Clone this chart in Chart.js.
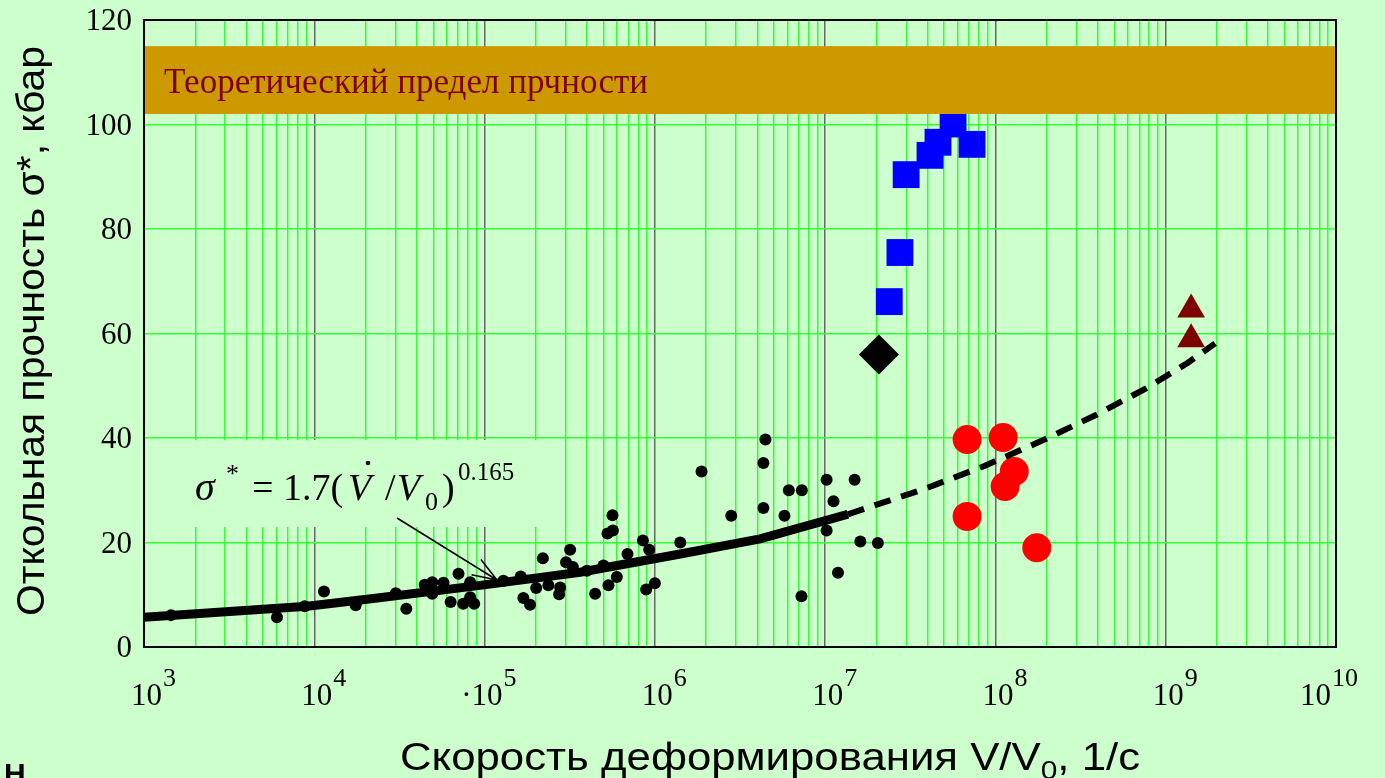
<!DOCTYPE html>
<html>
<head>
<meta charset="utf-8">
<script src="https://cdn.jsdelivr.net/npm/chart.js@4.4.0/dist/chart.umd.min.js"></script>
<style>
  html, body { margin: 0; padding: 0; background: #CCFFCC; }
  #wrap { width: 1385px; height: 778px; }
</style>
</head>
<body>
<div id="wrap"><canvas id="spall" width="1385" height="778"></canvas></div>
<script>
// strain rate (1/s) and spall strength (kbar)
const dotX = [1440, 6040, 8790, 11400, 17500, 30100, 34700, 44500, 49300, 49300,
  57400, 70300, 63200, 74900, 86900, 82300, 82300, 129000, 163000, 169000,
  185000, 201000, 220000, 237000, 278000, 274000, 301000, 318000, 330000, 399000,
  446000, 499000, 534000, 598000, 527000, 567000, 564000, 691000, 851000, 926000,
  889000, 1.0e6, 1.41e6, 1.88e6, 2.81e6, 4.46e6, 4.34e6, 4.34e6, 6.12e6, 7.30e6,
  5.77e6, 7.26e6, 1.02e7, 1.12e7, 1.02e7, 1.49e7, 1.61e7, 2.04e7, 1.19e7];
const dotY = [6.1, 5.7, 7.8, 10.6, 8.0, 10.3, 7.3, 11.9, 12.4, 10.2,
  12.3, 14.0, 8.6, 8.3, 8.3, 9.5, 12.4, 12.7, 13.5, 9.4,
  8.1, 11.3, 17.0, 11.8, 11.4, 10.1, 16.2, 18.6, 15.3, 14.6,
  10.2, 15.6, 11.8, 13.4, 21.7, 22.3, 25.2, 17.8, 20.4, 18.6,
  11.0, 12.2, 20.0, 33.6, 25.1, 39.7, 35.2, 26.6, 30.0, 30.0,
  25.1, 9.7, 32.0, 27.9, 22.3, 32.0, 20.2, 19.9, 14.2];

const squareX = [2.38e7, 2.75e7, 2.99e7, 4.13e7, 4.60e7, 5.64e7, 7.29e7];
const squareY = [66.1, 75.5, 90.4, 94.1, 96.6, 100.1, 96.2];

const diamondX = [2.07e7];
const diamondY = [56.0];

const circleX = [6.82e7, 1.11e8, 1.29e8, 1.14e8, 6.82e7, 1.75e8];
const circleY = [39.7, 40.1, 33.6, 30.7, 25.0, 19.0];

const triangleX = [1.41e9, 1.41e9];
const triangleY = [64.6, 58.9];

// fit sigma* = 1.7 (V'/V0)^0.165, solid part and dashed extension
const fitX = [1e3, 9100, 22200, 94200, 364000, 1.41e6, 4.15e6, 1.36e7];
const fitY = [5.7, 7.8, 9.3, 11.8, 14.3, 17.8, 20.7, 25.4];
const trendX = [1.36e7, 3.86e7, 8.69e7, 1.88e8, 3.95e8, 7.66e8, 1.35e9, 1.95e9];
const trendY = [25.4, 30.3, 34.7, 39.5, 44.5, 49.5, 54.4, 58.1];

const xTickExps = [3, 4, 5, 6, 7, 8, 9, 10];
const xTickPrefix = ['', '', '·', '', '', '', '', ''];
const yTicks = [0, 20, 40, 60, 80, 100, 120];

const limitBand = [102, 115];   // theoretical strength band, kbar

const BG = '#CCFFCC';
const SERIF = "'Liberation Serif', 'Times New Roman', serif";
const SANS = "'Liberation Sans', Arial, sans-serif";

function pts(xs, ys) {
  return xs.map((x, i) => ({ x: x, y: ys[i] }));
}
function isDecade(v) {
  const l = Math.log10(v);
  return Math.abs(l - Math.round(l)) < 1e-9;
}

// draws runs of [text, font, dy] stretched horizontally to a given width
function fitText(ctx, parts, x, y, width) {
  let total = 0;
  parts.forEach(p => { ctx.font = p[1]; total += ctx.measureText(p[0]).width; });
  const sx = width / total;
  ctx.save();
  ctx.translate(x, y);
  ctx.scale(sx, 1);
  ctx.textAlign = 'left';
  ctx.textBaseline = 'alphabetic';
  let cx = 0;
  parts.forEach(p => {
    ctx.font = p[1];
    ctx.fillText(p[0], cx, p[2] || 0);
    cx += ctx.measureText(p[0]).width;
  });
  ctx.restore();
}

const drawings = {
  id: 'drawings',
  beforeDraw(chart) {
    const ctx = chart.ctx;
    ctx.save();
    ctx.fillStyle = BG;
    ctx.fillRect(0, 0, chart.width, chart.height);
    ctx.restore();
  },
  beforeDatasetsDraw(chart) {
    // text box of the formula hides the grid behind it
    const ctx = chart.ctx, a = chart.chartArea;
    ctx.save();
    ctx.fillStyle = BG;
    ctx.fillRect(a.left + 1, 440, 550 - a.left, 87);
    ctx.restore();
  },
  afterDatasetsDraw(chart) {
    const ctx = chart.ctx, a = chart.chartArea;
    const xs = chart.scales.x, ys = chart.scales.y;
    ctx.save();

    // band
    const bTop = ys.getPixelForValue(limitBand[1]);
    const bBot = ys.getPixelForValue(limitBand[0]);
    ctx.fillStyle = '#CC9900';
    ctx.fillRect(a.left, bTop, a.right - a.left, bBot - bTop);
    ctx.fillStyle = '#800000';
    fitText(ctx, [['Теоретический предел прчности', '36px ' + SERIF]], 164, 93, 484);

    // formula
    ctx.fillStyle = '#000';
    ctx.textAlign = 'left';
    ctx.textBaseline = 'alphabetic';
    ctx.font = 'italic 40px ' + SERIF;
    ctx.fillText('σ', 195, 500);
    ctx.font = '26px ' + SERIF;
    ctx.fillText('*', 226, 482);
    ctx.font = '38px ' + SERIF;
    ctx.fillText('=', 252, 500);
    ctx.fillText('1.7(', 283, 500);
    ctx.font = 'italic 38px ' + SERIF;
    ctx.fillText('V', 348, 500);
    ctx.beginPath();
    ctx.arc(368, 463, 2.3, 0, Math.PI * 2);
    ctx.fill();
    ctx.font = '38px ' + SERIF;
    ctx.fillText('/', 385, 500);
    ctx.font = 'italic 38px ' + SERIF;
    ctx.fillText('V', 397, 500);
    ctx.font = '26px ' + SERIF;
    ctx.fillText('0', 425, 510);
    ctx.font = '38px ' + SERIF;
    ctx.fillText(')', 442, 500);
    ctx.font = '25px ' + SERIF;
    ctx.fillText('0.165', 458, 480);

    // arrow to the fit
    const tx = 497, ty = 580, sx = 397, sy = 518;
    const ang = Math.atan2(ty - sy, tx - sx);
    ctx.strokeStyle = '#000';
    ctx.lineWidth = 1.5;
    ctx.beginPath();
    ctx.moveTo(sx, sy);
    ctx.lineTo(tx, ty);
    [-0.35, 0.35].forEach(d => {
      ctx.moveTo(tx, ty);
      ctx.lineTo(tx - 26 * Math.cos(ang + d), ty - 26 * Math.sin(ang + d));
    });
    ctx.stroke();

    // plot frame
    ctx.strokeStyle = '#000';
    ctx.lineWidth = 2;
    ctx.strokeRect(a.left, a.top, a.right - a.left, a.bottom - a.top);

    // y tick labels
    ctx.font = '31px ' + SERIF;
    ctx.textAlign = 'right';
    ctx.textBaseline = 'middle';
    yTicks.forEach(v => ctx.fillText(String(v), a.left - 12, ys.getPixelForValue(v) + 2));

    // x tick labels 10^n
    ctx.textBaseline = 'alphabetic';
    xTickExps.forEach((e, i) => {
      const px = xs.getPixelForValue(Math.pow(10, e));
      const left = e >= 10 ? px - 36 : px - 13;
      ctx.font = '31px ' + SERIF;
      ctx.textAlign = 'right';
      if (xTickPrefix[i]) ctx.fillText(xTickPrefix[i], left, 705);
      ctx.textAlign = 'left';
      ctx.fillText('10', left, 705);
      const w = ctx.measureText('10').width;
      ctx.font = '26px ' + SERIF;
      ctx.fillText(String(e), left + w + 1, 686);
    });

    // axis titles
    ctx.save();
    ctx.translate(44, 616);
    ctx.rotate(-Math.PI / 2);
    fitText(ctx, [['Откольная прочность σ*, кбар', '38px ' + SANS]], 0, 0, 570);
    ctx.restore();

    fitText(ctx, [
      ['Скорость деформирования V/V', '38px ' + SANS],
      ['0', '26px ' + SANS, 9],
      [', 1/с', '38px ' + SANS]
    ], 400, 770, 740);

    // cut-off letter at the lower left
    ctx.textAlign = 'left';
    ctx.font = 'bold 30px ' + SANS;
    ctx.fillText('Н', 4, 784);

    ctx.restore();
  }
};

new Chart(document.getElementById('spall'), {
  type: 'scatter',
  data: {
    datasets: [
      { label: 'fit', data: pts(fitX, fitY), showLine: true, borderColor: '#000',
        borderWidth: 9, pointRadius: 0, tension: 0 },
      { label: 'trend', data: pts(trendX, trendY), showLine: true, borderColor: '#000',
        borderWidth: 6, borderDash: [17, 11], pointRadius: 0, tension: 0 },
      { label: 'dots', data: pts(dotX, dotY), backgroundColor: '#000', borderWidth: 0,
        pointRadius: 6 },
      { label: 'squares', data: pts(squareX, squareY), pointStyle: 'rect',
        backgroundColor: '#0000FF', borderWidth: 0, pointRadius: 19 },
      { label: 'diamond', data: pts(diamondX, diamondY), pointStyle: 'rectRot',
        backgroundColor: '#000', borderWidth: 0, pointRadius: 20 },
      { label: 'circles', data: pts(circleX, circleY), backgroundColor: '#FF0000',
        borderWidth: 0, pointRadius: 14.5 },
      { label: 'triangles', data: pts(triangleX, triangleY), pointStyle: 'triangle',
        backgroundColor: '#7F0000', borderWidth: 0, pointRadius: 16 }
    ]
  },
  options: {
    responsive: false,
    animation: false,
    layout: { padding: { left: 144, right: 49, top: 19, bottom: 131 } },
    plugins: { legend: { display: false }, tooltip: { enabled: false } },
    scales: {
      x: {
        type: 'logarithmic', min: 1e3, max: 1e10,
        ticks: { display: false },
        border: { display: false },
        grid: {
          drawTicks: false, lineWidth: 1.5,
          color: c => (c.tick && isDecade(c.tick.value)) ? '#666666' : '#33FF33'
        },
        afterBuildTicks: axis => {
          const t = [];
          for (let e = 3; e < 10; e++) {
            for (let m = 1; m <= 9; m++) t.push({ value: m * Math.pow(10, e) });
          }
          t.push({ value: 1e10 });
          axis.ticks = t;
        }
      },
      y: {
        min: 0, max: 120,
        ticks: { display: false, stepSize: 20 },
        border: { display: false },
        grid: { drawTicks: false, lineWidth: 1.5, color: '#33FF33' }
      }
    }
  },
  plugins: [drawings]
});
</script>
</body>
</html>
